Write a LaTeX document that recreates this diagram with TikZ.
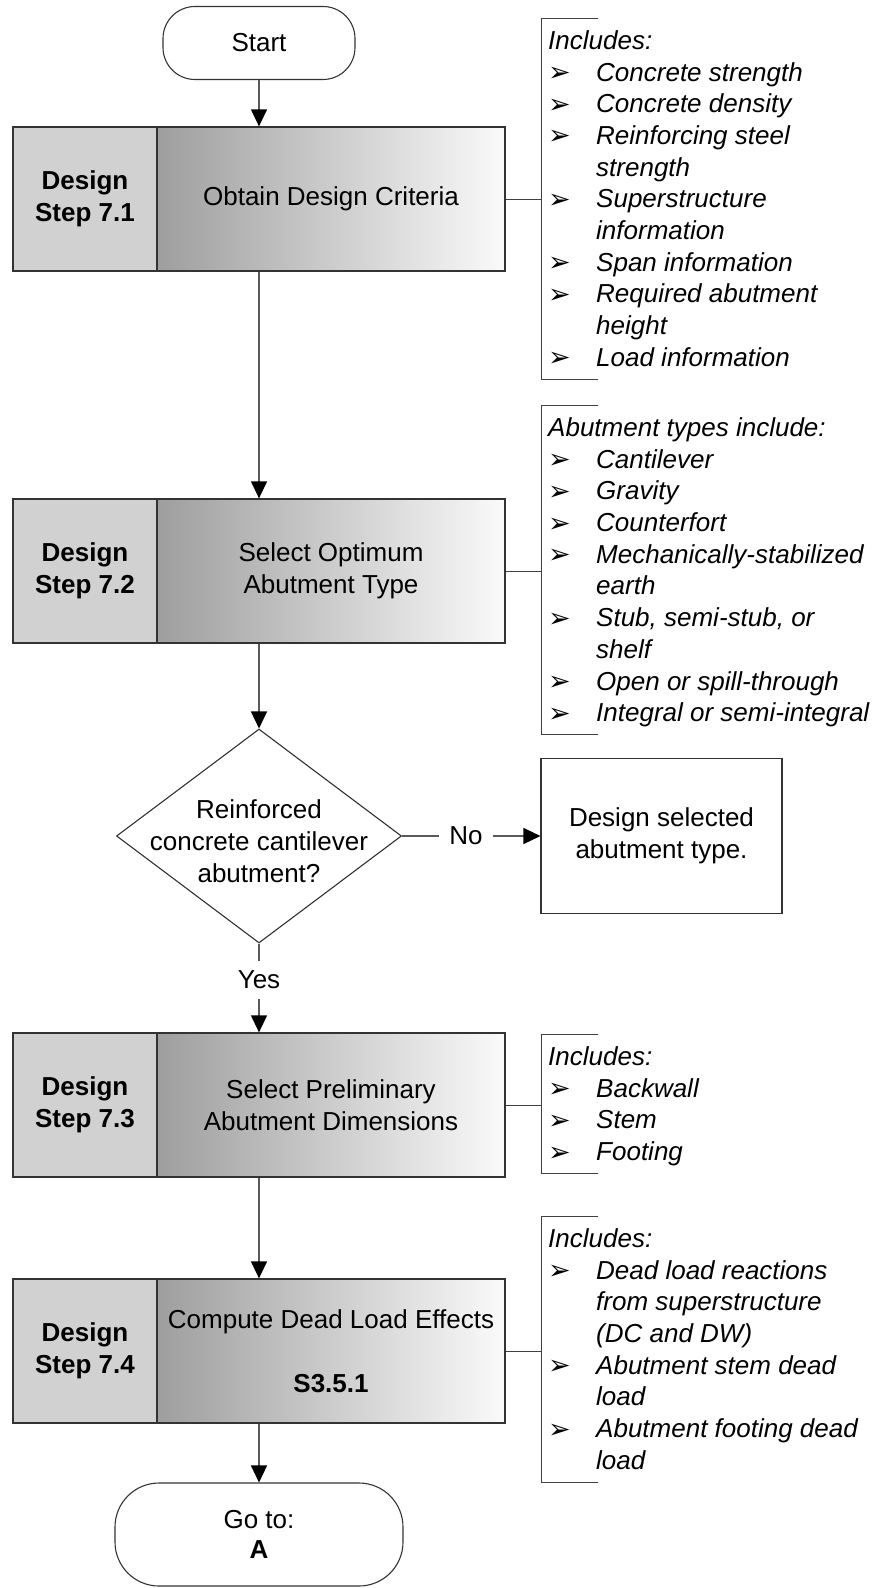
\documentclass[tikz,border=0pt]{standalone}
\usepackage{fontspec}
\setmainfont{Liberation Sans}
\newfontfamily\djv{DejaVu Sans}
\usetikzlibrary{shapes.geometric,arrows.meta,calc}
\newcommand{\bul}{\makebox[48pt][l]{\raisebox{-0.5pt}{\upshape\djv\fontsize{27}{27}\selectfont ➢}}}
\newcommand{\itm}[1]{\strut\bul#1}
\newcommand{\cnt}[1]{\strut\hspace*{48pt}#1}
\newcommand{\hd}[1]{\strut#1}
\begin{document}
\begin{tikzpicture}[x=1pt,y=-1pt,
  txt/.style={font=\fontsize{26}{32}\selectfont, align=center, inner sep=0},
  lbl/.style={draw=black!80, line width=1.3pt, fill=black!18, minimum width=144pt, minimum height=144pt, inner sep=0, font=\bfseries\fontsize{26}{32}\selectfont, align=center},
  mainbox/.style={draw=black!80, line width=1.3pt, left color=black!38, right color=black!2, minimum width=348pt, minimum height=144pt, inner sep=0, font=\fontsize{26}{32}\selectfont, align=center},
  note/.style={anchor=north west, inner sep=0, font=\itshape\fontsize{26}{31.7}\selectfont, align=left},
  brk/.style={draw=black!75, line width=1pt},
  link/.style={draw=black!65, line width=1.3pt},
  arr/.style={link, -{Triangle[length=17pt,width=16pt,color=black]}},
  term/.style={draw=black!80, line width=1.1pt, inner sep=0, font=\fontsize{26}{30}\selectfont, align=center},
  plain/.style={draw=black!80, line width=1.1pt}
]
\useasboundingbox (0,0) rectangle (884,1588);

% terminals
\node[term, minimum width=192pt, minimum height=73pt, rounded corners=32pt] (start) at (259,43) {Start};
\node[term, minimum width=288pt, minimum height=103pt, rounded corners=44pt] (goto) at (259,1534.5) {Go to:\\\textbf{A}};

% design steps
\node[lbl] (s1l) at (85,199) {Design\\Step 7.1};
\node[mainbox] (s1m) at (331,199) {Obtain Design Criteria};
\node[lbl] (s2l) at (85,571) {Design\\Step 7.2};
\node[mainbox] (s2m) at (331,571) {Select Optimum\\Abutment Type};
\node[lbl] (s3l) at (85,1105) {Design\\Step 7.3};
\node[mainbox] (s3m) at (331,1105) {Select Preliminary\\Abutment Dimensions};
\node[lbl] (s4l) at (85,1351) {Design\\Step 7.4};
\node[mainbox] (s4m) at (331,1351) {Compute Dead Load Effects\\[32pt]\textbf{S3.5.1}};

% decision
\node[plain, diamond, minimum width=285pt, minimum height=214pt, inner sep=0] (dec) at (259,836) {};
\node[txt] (dect) at (259,841) {Reinforced\\concrete cantilever\\abutment?};
\node[txt, inner xsep=10pt] (no) at (466,836) {No};
\node[plain, txt, minimum width=241pt, minimum height=155pt] (alt) at (661.5,836) {Design selected\\abutment type.};
\node[txt, inner ysep=10pt] (yes) at (259,980) {Yes};

% main flow
\draw[arr] (start.south) -- (start.south |- s1m.north);
\draw[arr] (start |- s1m.south) -- (start |- s2m.north);
\draw[arr] (start |- s2m.south) -- (dec.north);
\draw[link] (dec.east) -- (no.west);
\draw[arr] (no.east) -- (alt.west);
\draw[link] (dec.south) -- (yes.north);
\draw[arr] (yes.south) -- (yes.south |- s3m.north);
\draw[arr] (start |- s3m.south) -- (start |- s4m.north);
\draw[arr] (start |- s4m.south) -- (goto.north);

% notes
\coordinate (b1) at (541,18);
\node[note] (n1) at (548,27) {\hd{Includes:}\\\itm{Concrete strength}\\\itm{Concrete density}\\\itm{Reinforcing steel}\\\cnt{strength}\\\itm{Superstructure}\\\cnt{information}\\\itm{Span information}\\\itm{Required abutment}\\\cnt{height}\\\itm{Load information}};
\draw[brk] ($(b1)+(57,0)$) -- (b1) -- ($(b1 |- n1.south)+(0,3)$) -- ++(57,0);
\draw[brk] (s1m.east) -- (s1m.east -| b1);

\coordinate (b2) at (541,405);
\node[note] (n2) at (548,414) {\hd{Abutment types include:}\\\itm{Cantilever}\\\itm{Gravity}\\\itm{Counterfort}\\\itm{Mechanically-stabilized}\\\cnt{earth}\\\itm{Stub, semi-stub, or}\\\cnt{shelf}\\\itm{Open or spill-through}\\\itm{Integral or semi-integral}};
\draw[brk] ($(b2)+(57,0)$) -- (b2) -- ($(b2 |- n2.south)+(0,3)$) -- ++(57,0);
\draw[brk] (s2m.east) -- (s2m.east -| b2);

\coordinate (b3) at (541,1034);
\node[note] (n3) at (548,1043) {\hd{Includes:}\\\itm{Backwall}\\\itm{Stem}\\\itm{Footing}};
\draw[brk] ($(b3)+(57,0)$) -- (b3) -- ($(b3 |- n3.south)+(0,3)$) -- ++(57,0);
\draw[brk] (s3m.east) -- (s3m.east -| b3);

\coordinate (b4) at (541,1216);
\node[note] (n4) at (548,1225) {\hd{Includes:}\\\itm{Dead load reactions}\\\cnt{from superstructure}\\\cnt{(DC and DW)}\\\itm{Abutment stem dead}\\\cnt{load}\\\itm{Abutment footing dead}\\\cnt{load}};
\draw[brk] ($(b4)+(57,0)$) -- (b4) -- ($(b4 |- n4.south)+(0,3)$) -- ++(57,0);
\draw[brk] (s4m.east) -- (s4m.east -| b4);
\end{tikzpicture}
\end{document}
